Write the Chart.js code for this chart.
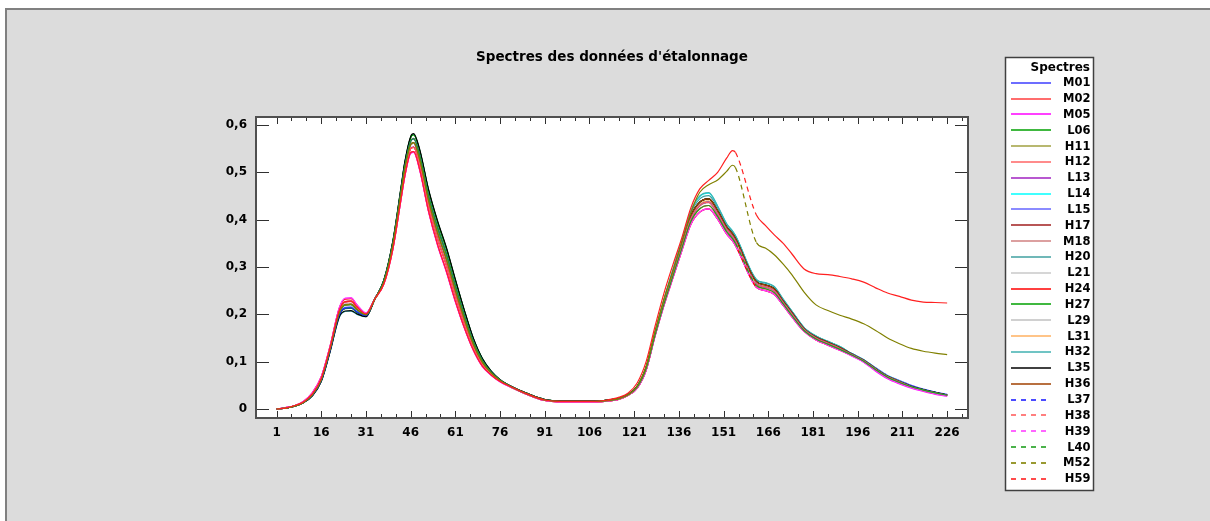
<!DOCTYPE html>
<html><head><meta charset="utf-8">
<script src="https://cdn.jsdelivr.net/npm/chart.js@4.4.1/dist/chart.umd.min.js"></script>
<style>html,body{margin:0;padding:0;background:#fff;}canvas{display:block;}</style>
</head><body>
<canvas id="c" width="1210" height="521"></canvas>
<script>
const chartTitle = "Spectres des données d'étalonnage";
const legendTitle = "Spectres";
const wavelengths = [1,4,7,10,13,16, 19,22,24,26,28,31,34, 37,40,43,44,46,47,49,52,55,58,61,64,67,70,73,76, 80,85,91,96,101,106,111,116,119,122,125, 128,131,134,137,140,143,146,149,152,154,155,162,165,168,171,174,178,182,186,190,194,198,202,206,210,214,218,222,226];
const xTickLabels = [1,16,31,46,61,76,91,106,121,136,151,166,181,196,211,226];
const yTickValues = [0,0.1,0.2,0.3,0.4,0.5,0.6];
const yTickLabels = ["0","0,1","0,2","0,3","0,4","0,5","0,6"];
const seriesNames = ["M01","M02","M05","L06","H11","H12","L13","L14","L15","H17","M18","H20","L21","H24","H27","L29","L31","H32","L35","H36","L37","H38","H39","L40","M52","H59"];

const M01 = [0,0.002,0.006,0.014,0.029,0.060, 0.125,0.198,0.213,0.214,0.205,0.197,0.233, 0.268,0.345,0.465,0.505,0.558,0.562,0.527,0.440,0.372,0.315,0.250,0.190,0.137,0.099,0.076,0.060, 0.046,0.032,0.019,0.016,0.016,0.016,0.017,0.022,0.030,0.046,0.085, 0.160,0.228,0.289,0.350,0.408,0.437,0.444,0.419,0.385,0.370,0.360,0.269,0.262,0.254,0.228,0.203,0.170,0.152,0.141,0.130,0.117,0.104,0.087,0.071,0.060,0.050,0.042,0.036,0.031];
const M02 = [0,0.002,0.007,0.015,0.032,0.065, 0.131,0.208,0.227,0.228,0.215,0.201,0.233, 0.264,0.337,0.453,0.491,0.542,0.544,0.507,0.418,0.348,0.291,0.228,0.172,0.125,0.091,0.072,0.058, 0.045,0.031,0.018,0.015,0.015,0.015,0.016,0.021,0.029,0.044,0.082, 0.156,0.222,0.281,0.340,0.396,0.423,0.430,0.407,0.375,0.360,0.350,0.261,0.254,0.246,0.222,0.197,0.166,0.148,0.137,0.126,0.114,0.101,0.083,0.067,0.056,0.047,0.040,0.034,0.029];
const M05 = [0,0.003,0.007,0.016,0.034,0.068, 0.134,0.213,0.234,0.235,0.220,0.203,0.234, 0.265,0.338,0.452,0.490,0.540,0.542,0.505,0.416,0.346,0.289,0.226,0.171,0.124,0.090,0.071,0.057, 0.045,0.031,0.018,0.015,0.015,0.015,0.016,0.021,0.029,0.044,0.082, 0.154,0.219,0.277,0.335,0.390,0.416,0.423,0.401,0.370,0.355,0.345,0.257,0.250,0.242,0.219,0.194,0.164,0.146,0.135,0.124,0.112,0.099,0.080,0.064,0.053,0.044,0.037,0.031,0.027];
const L06 = [0,0.002,0.006,0.014,0.029,0.060, 0.125,0.198,0.213,0.214,0.205,0.197,0.232, 0.272,0.353,0.477,0.519,0.574,0.580,0.547,0.462,0.396,0.339,0.272,0.208,0.149,0.107,0.080,0.062, 0.047,0.033,0.020,0.017,0.017,0.017,0.018,0.023,0.031,0.048,0.088, 0.158,0.225,0.285,0.345,0.402,0.430,0.437,0.413,0.380,0.365,0.355,0.265,0.258,0.250,0.225,0.200,0.168,0.150,0.139,0.128,0.115,0.102,0.084,0.068,0.057,0.047,0.040,0.034,0.029];
const H11 = [0,0.002,0.006,0.014,0.030,0.062, 0.128,0.203,0.220,0.221,0.210,0.199,0.233, 0.270,0.349,0.471,0.512,0.566,0.571,0.537,0.451,0.384,0.327,0.261,0.199,0.143,0.103,0.078,0.061, 0.046,0.032,0.019,0.016,0.016,0.016,0.017,0.022,0.030,0.046,0.085, 0.159,0.226,0.286,0.346,0.403,0.431,0.438,0.414,0.381,0.366,0.356,0.266,0.259,0.251,0.226,0.201,0.168,0.150,0.139,0.128,0.115,0.102,0.084,0.068,0.057,0.047,0.040,0.034,0.029];
const H12 = [0,0.002,0.007,0.015,0.032,0.065, 0.131,0.208,0.226,0.227,0.214,0.200,0.232, 0.266,0.341,0.459,0.498,0.550,0.553,0.517,0.429,0.360,0.303,0.239,0.181,0.131,0.095,0.074,0.059, 0.046,0.032,0.019,0.016,0.016,0.016,0.017,0.022,0.030,0.046,0.085, 0.156,0.222,0.281,0.340,0.396,0.423,0.430,0.407,0.375,0.360,0.350,0.261,0.254,0.246,0.222,0.197,0.166,0.148,0.137,0.126,0.114,0.101,0.083,0.067,0.056,0.046,0.039,0.033,0.028];
const L13 = [0,0.002,0.007,0.015,0.031,0.064, 0.130,0.207,0.226,0.228,0.215,0.201,0.234, 0.266,0.341,0.460,0.499,0.551,0.554,0.518,0.430,0.361,0.304,0.240,0.182,0.132,0.096,0.074,0.059, 0.045,0.031,0.018,0.015,0.015,0.015,0.016,0.021,0.029,0.044,0.082, 0.158,0.225,0.285,0.345,0.402,0.430,0.437,0.413,0.380,0.365,0.355,0.265,0.258,0.250,0.225,0.200,0.168,0.150,0.139,0.128,0.115,0.102,0.084,0.068,0.057,0.047,0.040,0.034,0.029];
const L14 = [0,0.002,0.006,0.014,0.030,0.062, 0.128,0.203,0.219,0.220,0.209,0.199,0.233, 0.270,0.349,0.471,0.512,0.566,0.571,0.537,0.451,0.384,0.327,0.261,0.199,0.143,0.103,0.078,0.061, 0.047,0.033,0.020,0.017,0.017,0.017,0.018,0.023,0.031,0.048,0.088, 0.162,0.231,0.294,0.357,0.418,0.449,0.456,0.428,0.391,0.376,0.366,0.273,0.266,0.258,0.231,0.206,0.172,0.154,0.143,0.132,0.117,0.104,0.086,0.070,0.059,0.048,0.041,0.035,0.030];
const L15 = [0,0.002,0.006,0.014,0.029,0.061, 0.126,0.199,0.215,0.216,0.206,0.198,0.234, 0.268,0.346,0.466,0.506,0.559,0.563,0.528,0.441,0.373,0.316,0.251,0.190,0.137,0.099,0.076,0.060, 0.046,0.032,0.019,0.016,0.016,0.016,0.017,0.022,0.030,0.046,0.085, 0.160,0.228,0.289,0.350,0.408,0.437,0.444,0.419,0.385,0.370,0.360,0.269,0.262,0.254,0.228,0.203,0.170,0.152,0.141,0.130,0.116,0.103,0.085,0.069,0.058,0.048,0.041,0.035,0.030];
const H17 = [0,0.002,0.006,0.014,0.030,0.062, 0.128,0.203,0.221,0.222,0.211,0.199,0.233, 0.270,0.350,0.472,0.513,0.567,0.572,0.538,0.452,0.385,0.328,0.262,0.199,0.143,0.103,0.078,0.061, 0.047,0.033,0.020,0.017,0.017,0.017,0.018,0.023,0.031,0.048,0.088, 0.160,0.228,0.289,0.350,0.408,0.437,0.444,0.419,0.385,0.370,0.360,0.269,0.262,0.254,0.228,0.203,0.170,0.152,0.141,0.130,0.116,0.103,0.085,0.069,0.058,0.047,0.040,0.034,0.029];
const M18 = [0,0.002,0.007,0.015,0.032,0.065, 0.131,0.208,0.227,0.228,0.215,0.201,0.233, 0.268,0.345,0.465,0.505,0.558,0.562,0.527,0.440,0.372,0.315,0.250,0.190,0.137,0.099,0.076,0.060, 0.046,0.032,0.019,0.016,0.016,0.016,0.017,0.022,0.030,0.046,0.085, 0.157,0.224,0.284,0.344,0.401,0.429,0.436,0.412,0.379,0.364,0.354,0.264,0.257,0.249,0.224,0.199,0.167,0.149,0.138,0.127,0.115,0.102,0.084,0.068,0.057,0.047,0.040,0.034,0.029];
const H20 = [0,0.002,0.006,0.014,0.029,0.060, 0.125,0.198,0.213,0.214,0.205,0.197,0.233, 0.272,0.353,0.477,0.519,0.574,0.580,0.547,0.462,0.396,0.339,0.272,0.208,0.149,0.107,0.080,0.062, 0.047,0.033,0.020,0.017,0.017,0.017,0.018,0.023,0.031,0.048,0.088, 0.162,0.231,0.293,0.355,0.414,0.444,0.451,0.425,0.390,0.375,0.365,0.273,0.266,0.258,0.231,0.206,0.172,0.154,0.143,0.132,0.117,0.104,0.086,0.070,0.059,0.047,0.040,0.034,0.029];
const L21 = [0,0.002,0.006,0.014,0.030,0.062, 0.128,0.203,0.220,0.221,0.210,0.199,0.233, 0.268,0.345,0.465,0.505,0.558,0.562,0.527,0.440,0.372,0.315,0.250,0.190,0.137,0.099,0.076,0.060, 0.046,0.032,0.019,0.016,0.016,0.016,0.017,0.022,0.030,0.046,0.085, 0.158,0.225,0.285,0.345,0.402,0.430,0.437,0.413,0.380,0.365,0.355,0.265,0.258,0.250,0.225,0.200,0.168,0.150,0.139,0.128,0.115,0.102,0.084,0.068,0.057,0.047,0.040,0.034,0.029];
const H24 = [0,0.003,0.007,0.016,0.034,0.068, 0.134,0.212,0.232,0.233,0.219,0.202,0.233, 0.266,0.341,0.459,0.498,0.550,0.553,0.517,0.429,0.360,0.303,0.239,0.181,0.131,0.095,0.074,0.059, 0.045,0.031,0.018,0.015,0.015,0.015,0.016,0.021,0.029,0.044,0.082, 0.154,0.219,0.277,0.335,0.390,0.416,0.423,0.401,0.370,0.355,0.345,0.257,0.250,0.242,0.219,0.194,0.164,0.146,0.135,0.124,0.113,0.100,0.082,0.066,0.055,0.046,0.039,0.033,0.028];
const H27 = [0,0.002,0.006,0.014,0.029,0.060, 0.124,0.197,0.212,0.213,0.204,0.196,0.232, 0.272,0.352,0.476,0.518,0.573,0.579,0.546,0.461,0.395,0.338,0.271,0.207,0.148,0.106,0.079,0.061, 0.047,0.033,0.020,0.017,0.017,0.017,0.018,0.023,0.031,0.048,0.088, 0.160,0.228,0.289,0.350,0.408,0.437,0.444,0.419,0.385,0.370,0.360,0.269,0.262,0.254,0.228,0.203,0.170,0.152,0.141,0.130,0.116,0.103,0.085,0.069,0.058,0.048,0.041,0.035,0.030];
const L29 = [0,0.002,0.006,0.014,0.030,0.062, 0.129,0.204,0.221,0.222,0.211,0.200,0.234, 0.269,0.348,0.470,0.511,0.565,0.570,0.536,0.450,0.383,0.326,0.260,0.198,0.142,0.102,0.077,0.060, 0.046,0.032,0.019,0.016,0.016,0.016,0.017,0.022,0.030,0.046,0.085, 0.158,0.225,0.285,0.345,0.402,0.430,0.437,0.413,0.380,0.365,0.355,0.265,0.258,0.250,0.225,0.200,0.168,0.150,0.139,0.128,0.115,0.102,0.084,0.068,0.057,0.047,0.040,0.034,0.029];
const L31 = [0,0.002,0.006,0.014,0.030,0.062, 0.128,0.203,0.220,0.221,0.210,0.199,0.233, 0.270,0.349,0.471,0.512,0.566,0.571,0.537,0.451,0.384,0.327,0.261,0.199,0.143,0.103,0.078,0.061, 0.047,0.033,0.020,0.017,0.017,0.017,0.018,0.023,0.031,0.048,0.088, 0.158,0.226,0.286,0.347,0.404,0.433,0.440,0.415,0.382,0.367,0.357,0.267,0.260,0.252,0.226,0.201,0.169,0.151,0.140,0.129,0.115,0.102,0.084,0.068,0.057,0.047,0.040,0.034,0.029];
const H32 = [0,0.002,0.006,0.013,0.028,0.058, 0.122,0.193,0.206,0.207,0.200,0.195,0.233, 0.270,0.349,0.471,0.512,0.566,0.571,0.537,0.451,0.384,0.327,0.261,0.199,0.143,0.103,0.078,0.061, 0.047,0.033,0.020,0.017,0.017,0.017,0.018,0.023,0.031,0.048,0.088, 0.162,0.232,0.295,0.358,0.419,0.450,0.457,0.429,0.392,0.376,0.366,0.274,0.267,0.259,0.232,0.206,0.172,0.154,0.143,0.132,0.117,0.104,0.086,0.070,0.059,0.048,0.041,0.034,0.029];
const L35 = [0,0.002,0.006,0.013,0.028,0.058, 0.122,0.194,0.207,0.208,0.201,0.195,0.233, 0.272,0.354,0.479,0.521,0.576,0.582,0.549,0.464,0.398,0.341,0.274,0.209,0.150,0.107,0.080,0.062, 0.047,0.033,0.020,0.017,0.017,0.017,0.018,0.023,0.031,0.048,0.088, 0.160,0.228,0.289,0.350,0.408,0.437,0.444,0.419,0.385,0.370,0.360,0.269,0.262,0.254,0.228,0.203,0.170,0.152,0.141,0.130,0.116,0.103,0.085,0.069,0.058,0.048,0.041,0.035,0.030];
const H36 = [0,0.002,0.006,0.014,0.030,0.062, 0.128,0.203,0.220,0.221,0.210,0.199,0.233, 0.268,0.345,0.466,0.506,0.559,0.563,0.528,0.441,0.373,0.316,0.251,0.191,0.138,0.099,0.076,0.060, 0.046,0.032,0.019,0.016,0.016,0.016,0.017,0.022,0.030,0.046,0.085, 0.160,0.228,0.289,0.350,0.408,0.437,0.444,0.419,0.385,0.370,0.360,0.269,0.262,0.254,0.228,0.203,0.170,0.152,0.141,0.130,0.116,0.103,0.085,0.069,0.058,0.047,0.040,0.034,0.029];
const L37 = [0,0.002,0.006,0.014,0.029,0.060, 0.125,0.198,0.213,0.214,0.205,0.197,0.233, 0.270,0.349,0.471,0.512,0.566,0.571,0.537,0.451,0.384,0.327,0.261,0.199,0.143,0.103,0.078,0.061, 0.046,0.032,0.019,0.016,0.016,0.016,0.017,0.022,0.030,0.046,0.085, 0.158,0.225,0.285,0.345,0.402,0.430,0.437,0.413,0.380,0.365,0.355,0.265,0.258,0.250,0.225,0.200,0.168,0.150,0.139,0.128,0.115,0.102,0.084,0.068,0.057,0.047,0.040,0.034,0.029];
const H38 = [0,0.002,0.007,0.015,0.032,0.065, 0.131,0.208,0.227,0.228,0.215,0.201,0.233, 0.266,0.341,0.459,0.498,0.550,0.553,0.517,0.429,0.360,0.303,0.239,0.181,0.131,0.095,0.074,0.059, 0.045,0.031,0.018,0.015,0.015,0.015,0.016,0.021,0.029,0.044,0.082, 0.158,0.225,0.285,0.345,0.402,0.430,0.437,0.413,0.380,0.365,0.355,0.265,0.258,0.250,0.225,0.200,0.168,0.150,0.139,0.128,0.115,0.102,0.084,0.068,0.057,0.047,0.040,0.034,0.029];
const H39 = [0,0.003,0.007,0.016,0.034,0.068, 0.134,0.213,0.234,0.235,0.220,0.203,0.233, 0.264,0.337,0.453,0.491,0.542,0.544,0.507,0.418,0.348,0.291,0.228,0.172,0.125,0.091,0.072,0.058, 0.045,0.031,0.018,0.015,0.015,0.015,0.016,0.021,0.029,0.044,0.082, 0.154,0.219,0.277,0.335,0.390,0.416,0.423,0.401,0.370,0.355,0.345,0.257,0.250,0.242,0.219,0.194,0.164,0.146,0.135,0.124,0.112,0.099,0.081,0.065,0.054,0.045,0.038,0.032,0.027];
const L40 = [0,0.002,0.006,0.014,0.030,0.062, 0.128,0.203,0.220,0.221,0.210,0.199,0.233, 0.270,0.349,0.471,0.512,0.566,0.571,0.537,0.451,0.384,0.327,0.261,0.199,0.143,0.103,0.078,0.061, 0.046,0.032,0.019,0.016,0.016,0.016,0.017,0.022,0.030,0.046,0.085, 0.156,0.222,0.281,0.340,0.396,0.423,0.430,0.407,0.375,0.360,0.350,0.261,0.254,0.246,0.222,0.197,0.166,0.148,0.137,0.126,0.114,0.101,0.083,0.067,0.056,0.047,0.040,0.034,0.029];
const M52 = [0,0.002,0.006,0.014,0.030,0.062, 0.128,0.203,0.220,0.221,0.210,0.199,0.233, 0.268,0.346,0.466,0.506,0.559,0.563,0.528,0.441,0.373,0.316,0.250,0.190,0.137,0.099,0.076,0.060, 0.046,0.032,0.019,0.016,0.016,0.016,0.017,0.022,0.030,0.048,0.090, 0.165,0.232,0.292,0.352,0.415,0.458,0.474,0.484,0.502,0.515,0.510,0.352,0.340,0.326,0.306,0.283,0.247,0.220,0.208,0.198,0.190,0.180,0.166,0.150,0.138,0.128,0.122,0.118,0.115];
const H59 = [0,0.002,0.007,0.015,0.032,0.065, 0.131,0.208,0.227,0.228,0.215,0.201,0.233, 0.264,0.337,0.453,0.491,0.542,0.544,0.507,0.418,0.348,0.291,0.228,0.172,0.125,0.091,0.072,0.058, 0.046,0.032,0.019,0.016,0.016,0.016,0.018,0.025,0.034,0.055,0.100, 0.175,0.245,0.305,0.362,0.425,0.465,0.483,0.500,0.530,0.546,0.542,0.410,0.388,0.368,0.350,0.327,0.296,0.286,0.284,0.280,0.275,0.268,0.256,0.245,0.238,0.230,0.226,0.225,0.224];

const seriesValues = [M01,M02,M05,L06,H11,H12,L13,L14,L15,H17,M18,H20,L21,H24,H27,L29,L31,H32,L35,H36,L37,H38,H39,L40,M52,H59];

// styles
const seriesColors = ["#3c3cff","#ff3c3c","#ff00ff","#00a000","#a0a040","#ff6464","#a020c0","#00ffff","#6464ff","#a01e1e","#d08080","#40a0a0","#c8c8c8","#ff0000","#00a000","#c0c0c0","#ffb060","#40b0b0","#000000","#a04000","#2020ff","#ff6060","#ff40ff","#20a020","#808000","#ff2020"];
const seriesDashed = [false,false,false,false,false,false,false,false,false,false,false,false,false,false,false,false,false,false,false,false,true,true,true,true,true,true];

const FONT = "'DejaVu Sans', sans-serif";
const N = seriesNames.length;

const datasets = seriesNames.map((name, i) => ({
  label: name,
  data: wavelengths.map((x, j) => ({x: x, y: seriesValues[i][j]})),
  borderColor: seriesColors[i],
  borderWidth: 1.2,
  pointRadius: 0,
  fill: false,
  cubicInterpolationMode: 'monotone',
  order: N - i,
  segment: {
    borderDash: ctx => (seriesDashed[i] && (ctx.p1.parsed.x - ctx.p0.parsed.x) > 6.5) ? [5, 4] : undefined
  }
}));

const backgroundPlugin = {
  id: 'bgPanel',
  beforeDraw(chart) {
    const ctx = chart.ctx, W = chart.width, H = chart.height, a = chart.chartArea;
    ctx.save();
    ctx.fillStyle = '#ffffff';
    ctx.fillRect(0, 0, W, H);
    ctx.fillStyle = '#dcdcdc';
    ctx.fillRect(5, 8, W - 5, H - 8);
    ctx.strokeStyle = '#808080';
    ctx.lineWidth = 2;
    ctx.beginPath();
    ctx.moveTo(6, H); ctx.lineTo(6, 9); ctx.lineTo(W, 9);
    ctx.stroke();
    ctx.fillStyle = '#ffffff';
    ctx.fillRect(a.left, a.top, a.right - a.left, a.bottom - a.top);
    ctx.restore();
  }
};

const framePlugin = {
  id: 'frame',
  afterDatasetsDraw(chart) {
    const ctx = chart.ctx, a = chart.chartArea;
    const xs = chart.scales.x, ys = chart.scales.y;
    ctx.save();
    ctx.strokeStyle = '#303030';
    ctx.lineWidth = 1;
    ctx.beginPath();
    yTickValues.forEach(v => {
      const py = Math.round(ys.getPixelForValue(v)) + 0.5;
      ctx.moveTo(a.left, py); ctx.lineTo(a.left + 13, py);
      ctx.moveTo(a.right, py); ctx.lineTo(a.right - 13, py);
    });
    const step = xTickLabels[1] - xTickLabels[0];
    const minor = step / 3;
    for (let v = xTickLabels[0]; v <= xs.max; v += minor) {
      const px = Math.round(xs.getPixelForValue(v)) + 0.5;
      const major = Math.abs(((v - xTickLabels[0]) / step) - Math.round((v - xTickLabels[0]) / step)) < 1e-6;
      const len = major ? 7 : 4;
      ctx.moveTo(px, a.bottom); ctx.lineTo(px, a.bottom - len);
      ctx.moveTo(px, a.top); ctx.lineTo(px, a.top + len);
    }
    ctx.stroke();
    ctx.strokeStyle = '#505050';
    ctx.lineWidth = 2;
    ctx.strokeRect(a.left, a.top, a.right - a.left, a.bottom - a.top);
    ctx.restore();
  },
  afterDraw(chart) {
    const ctx = chart.ctx, a = chart.chartArea;
    ctx.save();
    // title
    ctx.fillStyle = '#000';
    ctx.font = "bold 13.5px " + FONT;
    ctx.textAlign = 'center';
    ctx.textBaseline = 'middle';
    ctx.fillText(chartTitle, (a.left + a.right) / 2, 57);
    // legend box
    const bx = 1005, by = 57, bw = 88, bh = 433;
    ctx.fillStyle = '#ffffff';
    ctx.fillRect(bx, by, bw, bh);
    ctx.strokeStyle = '#404040';
    ctx.lineWidth = 1.5;
    ctx.strokeRect(bx + 0.5, by + 0.5, bw, bh);
    ctx.fillStyle = '#000';
    ctx.textAlign = 'right';
    ctx.font = "bold 12px " + FONT;
    ctx.fillText(legendTitle, 1090, 67.5);
    ctx.font = "bold 11.5px " + FONT;
    chart.data.datasets.forEach((ds, i) => {
      const y = 82.7 + i * 15.84;
      const ly = Math.round(y);
      ctx.strokeStyle = ds.borderColor;
      ctx.lineWidth = 1.6;
      ctx.setLineDash(seriesDashed[i] ? [5, 5] : []);
      ctx.beginPath();
      ctx.moveTo(1011, ly); ctx.lineTo(1051, ly);
      ctx.stroke();
      ctx.setLineDash([]);
      ctx.fillStyle = '#000';
      ctx.fillText(ds.label, 1090.5, y + 0.5);
    });
    ctx.restore();
  }
};

new Chart(document.getElementById('c'), {
  type: 'line',
  data: { datasets: datasets },
  plugins: [backgroundPlugin, framePlugin],
  options: {
    responsive: false,
    animation: false,
    devicePixelRatio: 1,
    events: [],
    layout: { padding: { left: 210, right: 242, top: 117, bottom: 73 } },
    plugins: { legend: { display: false }, tooltip: { enabled: false }, title: { display: false } },
    scales: {
      x: {
        type: 'linear', min: -5.9, max: 233, position: 'bottom',
        afterBuildTicks: s => { s.ticks = xTickLabels.map(v => ({ value: v })); },
        afterFit: s => { s.height = 30; },
        grid: { display: false, drawTicks: false },
        border: { display: false },
        ticks: { autoSkip: false, maxRotation: 0, minRotation: 0, padding: 8, color: '#000',
          font: { family: FONT, size: 12, weight: 'bold' },
          callback: (v, i) => String(xTickLabels[i]) }
      },
      y: {
        type: 'linear', min: -0.019, max: 0.617,
        afterBuildTicks: s => { s.ticks = yTickValues.map(v => ({ value: v })); },
        afterFit: s => { s.width = 46; },
        grid: { display: false, drawTicks: false },
        border: { display: false },
        ticks: { padding: 9, color: '#000',
          font: { family: FONT, size: 12, weight: 'bold' },
          callback: (v, i) => yTickLabels[i] }
      }
    }
  }
});
</script>
</body></html>
